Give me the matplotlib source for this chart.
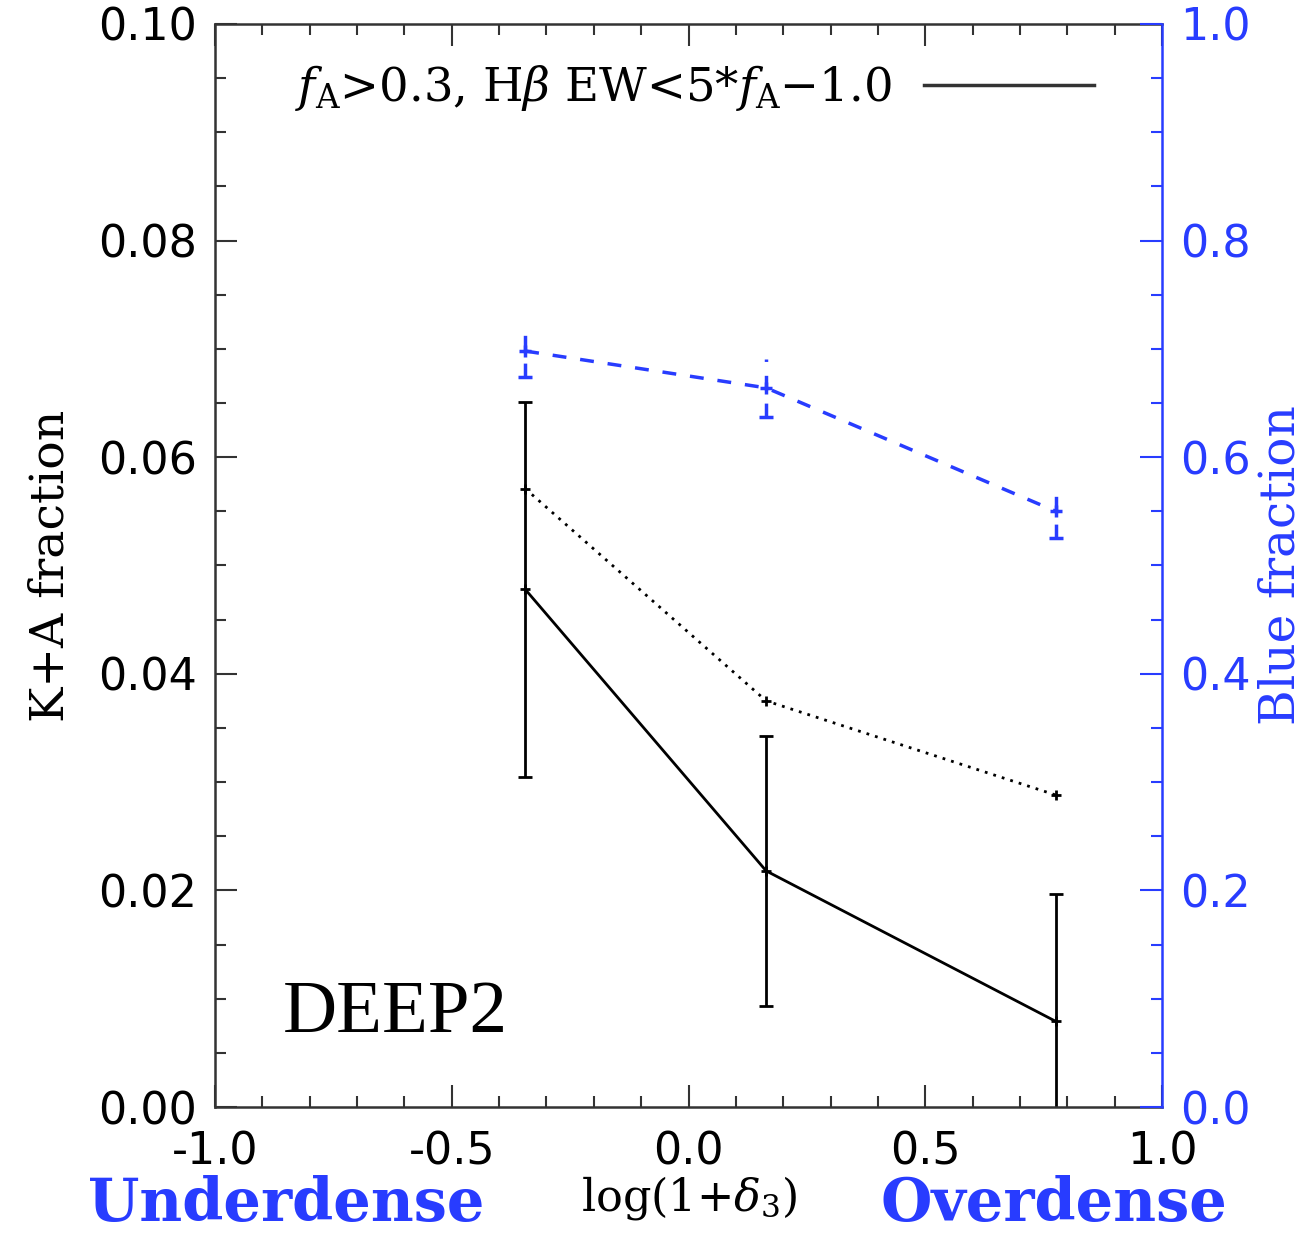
import numpy as np
import matplotlib
matplotlib.use("Agg")
import matplotlib.pyplot as plt
from matplotlib.lines import Line2D
from matplotlib.ticker import MultipleLocator, FormatStrFormatter

# log(1+delta_3) bins
x = np.array([-0.345, 0.164, 0.776])

# K+A fraction (solid, with errors) and the looser selection (dotted)
ka_frac = np.array([0.0478, 0.0218, 0.0079])
ka_err = np.array([0.0173, 0.0125, 0.0118])
ka_loose = np.array([0.0571, 0.0375, 0.0288])

# blue fraction on the right axis
blue_frac = np.array([0.698, 0.664, 0.550])
blue_err = np.array([0.024, 0.027, 0.025])

BLUE = "#283cff"
SPINE = "#333333"

plt.rcParams["mathtext.fontset"] = "dejavuserif"

fig = plt.figure(figsize=(13.09, 12.34), dpi=100)
ax = fig.add_axes([0.1643, 0.1029, 0.7234, 0.8777])
ax2 = ax.twinx()

# K+A fraction
ax.errorbar(x, ka_frac, yerr=ka_err, color="k", lw=2, elinewidth=2,
            capsize=5, capthick=2, marker="+", ms=7, mew=2)
ax.plot(x, ka_loose, color="k", lw=2, ls=(0, (1, 2.2)), marker="+", ms=7, mew=2)

# blue fraction
eb = ax2.errorbar(x, blue_frac, yerr=blue_err, color=BLUE, lw=2.5, elinewidth=2.5,
                  ls=(0, (4, 4)), capsize=5, capthick=2.5, marker="+", ms=8, mew=2.5)
eb[2][0].set_linestyle((0, (4, 4)))
eb[1][1].set_visible(False)

ax.set_xlim(-1.0, 1.0)
ax.set_ylim(0.0, 0.10)
ax2.set_ylim(0.0, 1.0)

ax.xaxis.set_major_locator(MultipleLocator(0.5))
ax.xaxis.set_minor_locator(MultipleLocator(0.1))
ax.yaxis.set_major_locator(MultipleLocator(0.02))
ax.yaxis.set_minor_locator(MultipleLocator(0.005))
ax.yaxis.set_major_formatter(FormatStrFormatter("%.2f"))
ax.xaxis.set_major_formatter(FormatStrFormatter("%.1f"))
ax2.yaxis.set_major_locator(MultipleLocator(0.2))
ax2.yaxis.set_minor_locator(MultipleLocator(0.05))
ax2.yaxis.set_major_formatter(FormatStrFormatter("%.1f"))

ax.tick_params(which="both", direction="in", top=True, right=False,
               colors=SPINE, labelcolor="k", labelsize=32, width=1.5)
ax.tick_params(which="major", length=16)
ax.tick_params(which="minor", length=8)
ax.tick_params(axis="y", pad=13)
ax.tick_params(axis="x", pad=17)
ax2.tick_params(which="both", direction="in", colors=BLUE, labelsize=32,
                width=1.5, pad=13)
ax2.tick_params(which="major", length=16)
ax2.tick_params(which="minor", length=8)

for s in ["left", "top", "bottom"]:
    ax.spines[s].set_color(SPINE)
    ax.spines[s].set_linewidth(1.8)
    ax2.spines[s].set_visible(False)
ax.spines["right"].set_visible(False)
ax2.spines["right"].set_color(BLUE)
ax2.spines["right"].set_linewidth(1.8)

ax.set_ylabel("K+A fraction", family="DejaVu Serif", fontsize=34, labelpad=18)
ax2.set_ylabel("Blue fraction", family="DejaVu Serif", fontsize=35, color=BLUE,
               labelpad=5)
ax.set_xlabel(r"log(1+$\delta_3$)", family="DejaVu Serif", fontsize=32, labelpad=0)

leg = ax.legend(handles=[Line2D([], [], color=SPINE, lw=2.5)],
                labels=[r"$f_{\rm A}$>0.3, H$\beta$ EW<5*$f_{\rm A}$$-$1.0"],
                loc="center left", bbox_to_anchor=(0.0845, 0.941),
                frameon=False, markerfirst=False, handlelength=3.66,
                handletextpad=0.69, borderpad=0, borderaxespad=0,
                prop={"family": "DejaVu Serif", "size": 33.5})

ax.text(0.0718, 0.0693, "DEEP2", transform=ax.transAxes, family="Liberation Serif",
        fontsize=54, va="baseline", ha="left")

fig.text(0.0672, 0.001, "Underdense", family="DejaVu Serif", weight="bold",
         fontsize=42.5, color=BLUE, va="bottom", ha="left")
fig.text(0.938, 0.001, "Overdense", family="DejaVu Serif", weight="bold",
         fontsize=42.5, color=BLUE, va="bottom", ha="right")

fig.savefig("out.png", dpi=100)
